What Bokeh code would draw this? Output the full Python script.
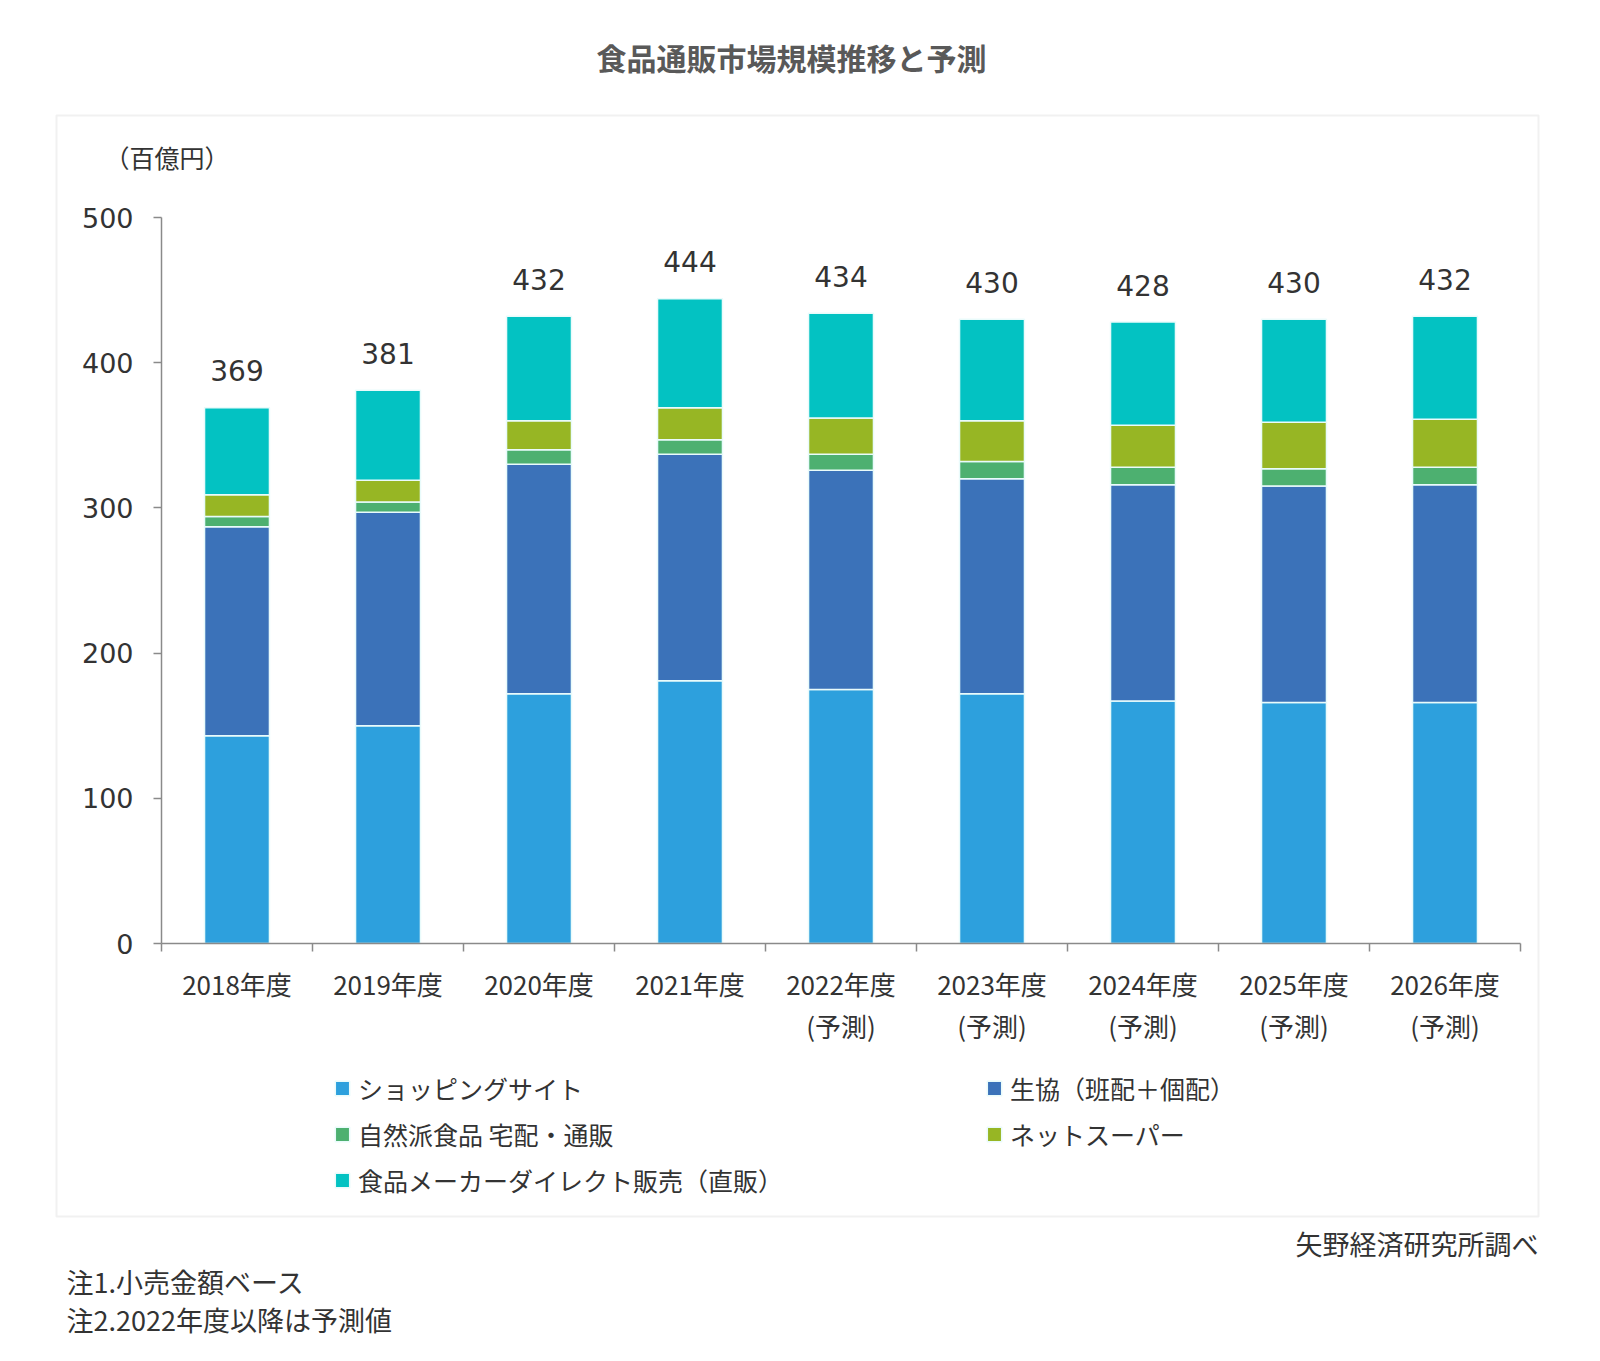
from bokeh.plotting import figure
from bokeh.models import (FixedTicker, Label, Legend, LegendItem, BoxAnnotation,
                          ColumnDataSource, Range1d)
from bokeh.core.properties import value
from bokeh.embed import file_html
from bokeh.resources import INLINE

# ---------------- data ----------------
years = ["2018年度", "2019年度", "2020年度", "2021年度", "2022年度",
         "2023年度", "2024年度", "2025年度", "2026年度"]
forecast = [False, False, False, False, True, True, True, True, True]
series_names = ["ショッピングサイト", "生協（班配＋個配）", "自然派食品 宅配・通販",
                "ネットスーパー", "食品メーカーダイレクト販売（直販）"]
shopping = [143, 150, 172, 181, 175, 172, 167, 166, 166]
coop = [144, 147, 158, 156, 151, 148, 149, 149, 150]
natural = [7, 7, 10, 10, 11, 12, 12, 12, 12]
netsuper = [15, 15, 20, 22, 25, 28, 29, 32, 33]
direct = [60, 62, 72, 75, 72, 70, 71, 71, 71]
totals = [369, 381, 432, 444, 434, 430, 428, 430, 432]
y_ticks = [0, 100, 200, 300, 400, 500]

colors = ["#2DA0DD", "#3B72B9", "#4DB070", "#97B624", "#03C2C2"]
keys = ["shopping", "coop", "natural", "netsuper", "direct"]

n = len(years)
xs = [i + 0.5 for i in range(n)]
source = ColumnDataSource(dict(x=xs, shopping=shopping, coop=coop, natural=natural,
                               netsuper=netsuper, direct=direct, total=totals,
                               label=[str(t) for t in totals]))

# ---------------- geometry (page px) ----------------
W, H = 1600, 1361
X0, PXU = 161, 151.0      # x=0 at px 161, px per category
Y0, PYU = 943, 1.452      # y=0 at px 943, px per unit
YMAX = 500


def dx(px):
    return (px - X0) / PXU


def dy(py):
    return (Y0 - py) / PYU


p = figure(width=W, height=H, min_border=0,
           x_range=Range1d(dx(0), dx(W)), y_range=Range1d(dy(H), dy(0)),
           output_backend="svg", toolbar_location=None, tools="")
p.outline_line_color = None
p.xgrid.visible = False
p.ygrid.visible = False
p.background_fill_color = "white"
p.border_fill_color = "white"

# outer box
p.add_layout(BoxAnnotation(left=dx(56), right=dx(1538), top=dy(115), bottom=dy(1216),
                           fill_alpha=0, line_color="#cfcfcf", line_width=2,
                           level="underlay"))

rs = p.vbar_stack(keys, x="x", width=0.43, color=colors, line_color="#E9FBFB",
                  line_width=1.5, source=source)

p.text(x="x", y="total", text="label", source=source, text_align="center",
       text_baseline="middle", y_offset=-37, text_font=value("DejaVu Sans"),
       text_font_size="28px", text_color="#333333")

# axes (fixed inside the full-size frame)
ax = p.xaxis[0]
ax.fixed_location = 0
ax.bounds = (0, n)
ax.ticker = FixedTicker(ticks=xs, minor_ticks=list(range(n + 1)))
ax.major_label_overrides = {x: (y + "\n(予測)" if f else y)
                            for x, y, f in zip(xs, years, forecast)}
ax.major_tick_out = 0
ax.major_tick_in = 0
ax.minor_tick_out = 8
ax.minor_tick_in = 0
ax.minor_tick_line_color = "#8a8a8a"
ax.minor_tick_line_width = 1.5
ax.axis_line_color = "#8a8a8a"
ax.axis_line_width = 1.5
ax.major_label_text_font = "Noto Sans CJK JP"
ax.major_label_text_font_size = "26px"
ax.major_label_text_color = "#333333"
ax.major_label_text_line_height = 1.15
ax.major_label_standoff = 13

ay = p.yaxis[0]
ay.fixed_location = 0
ay.bounds = (0, YMAX)
ay.ticker = FixedTicker(ticks=y_ticks)
ay.major_tick_out = 8
ay.major_tick_in = 0
ay.major_tick_line_color = "#8a8a8a"
ay.major_tick_line_width = 1.5
ay.minor_tick_line_color = None
ay.axis_line_color = "#8a8a8a"
ay.axis_line_width = 1.5
ay.major_label_text_font = "DejaVu Sans"
ay.major_label_text_font_size = "27px"
ay.major_label_text_color = "#333333"
ay.major_label_standoff = 20


# legends
def mk_legend(idx, loc):
    lg = Legend(items=[LegendItem(label=series_names[i], renderers=[rs[i]]) for i in idx],
                location=loc, orientation="vertical")
    lg.label_text_font = "Noto Sans CJK JP"
    lg.label_text_font_size = "25px"
    lg.label_text_color = "#333333"
    lg.glyph_width = 18
    lg.glyph_height = 18
    lg.label_standoff = 7
    lg.label_height = 46
    lg.spacing = 0
    lg.padding = 0
    lg.margin = 0
    lg.border_line_color = None
    lg.background_fill_alpha = 0
    return lg


p.add_layout(mk_legend([0, 2, 4], (333, H - 1203)))
p.add_layout(mk_legend([1, 3], (985, H - 1157)))

# texts
txt = dict(text_font="Noto Sans CJK JP", text_color="#333333", text_baseline="middle")
p.add_layout(Label(x=dx(791), y=dy(56), text="食品通販市場規模推移と予測", text_align="center",
                   text_font="Noto Sans CJK JP", text_font_style="bold",
                   text_font_size="30px", text_color="#595959", text_baseline="middle"))
p.add_layout(Label(x=dx(104), y=dy(156), text="（百億円）", text_align="left",
                   text_font_size="25px", **txt))
p.add_layout(Label(x=dx(1538), y=dy(1243), text="矢野経済研究所調べ", text_align="right",
                   text_font_size="27px", **txt))
p.add_layout(Label(x=dx(66), y=dy(1281), text="注1.小売金額ベース", text_align="left",
                   text_font_size="27px", **txt))
p.add_layout(Label(x=dx(66), y=dy(1319), text="注2.2022年度以降は予測値", text_align="left",
                   text_font_size="27px", **txt))

open("out.html", "w").write(file_html(p, INLINE))
